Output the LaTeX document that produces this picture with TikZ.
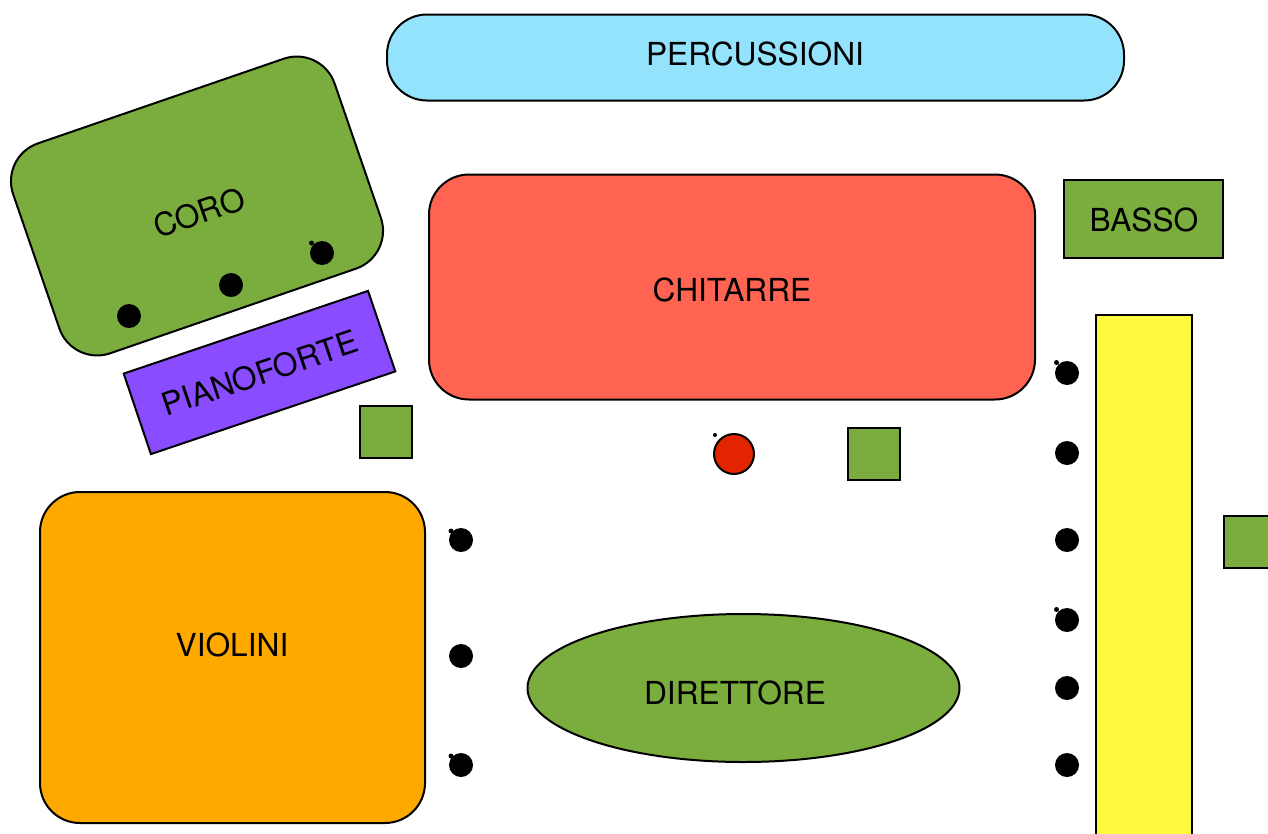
\documentclass[tikz,border=0pt]{standalone}
\usepackage{fontspec}
\setmainfont{TeX Gyre Heros}
\usetikzlibrary{shapes.geometric}
\definecolor{perc}{HTML}{93E3FD}
\definecolor{chit}{HTML}{FF6452}
\definecolor{grn}{HTML}{7AAD3D}
\definecolor{viol}{HTML}{FEA900}
\definecolor{yel}{HTML}{FFFA3D}
\definecolor{purp}{HTML}{8A4CFF}
\definecolor{redc}{HTML}{E22400}
\begin{document}
\begin{tikzpicture}[x=1pt,y=-1pt,
  area/.style={draw=black, line width=2pt, inner sep=0pt},
  lbl/.style={inner sep=0pt, font=\fontsize{31.7}{38}\selectfont},
  gbox/.style={draw=black, fill=grn, line width=2pt, minimum size=52pt, inner sep=0pt},
  seat/.style={circle, fill=black, minimum size=24pt, inner sep=0pt},
  nub/.style={circle, fill=black, minimum size=5pt, inner sep=0pt}]
\useasboundingbox (0,0) rectangle (1268,833);
\clip (0,0) rectangle (1268,833);
\node[area, fill=perc, rounded corners=40pt, minimum width=737pt, minimum height=86pt] (perc) at (755.5,57.5) {};
\node[lbl] (percT) at (755,54.3) {PERCUSSIONI};
\node[area, fill=chit, rounded corners=40pt, minimum width=606pt, minimum height=225pt] (chit) at (732,287) {};
\node[lbl] (chitT) at (732,289.7) {CHITARRE};
\node[area, fill=grn, minimum width=159pt, minimum height=78pt] (basso) at (1143.5,219) {};
\node[lbl] (bassoT) at (1144,219.7) {BASSO};
\node[area, fill=yel, minimum width=96pt, minimum height=585pt] (yel) at (1144,607.5) {};
\node[gbox] (sq1) at (1250,541.5) {};
\node[gbox] (sq2) at (874,453.5) {};
\node[gbox] (sq3) at (386,432) {};
\node[circle, draw=black, fill=redc, line width=2pt, minimum size=40pt, inner sep=0pt] (rc) at (734,454) {};
\node[nub, minimum size=4pt] (rcn) at (715,435) {};
\node[area, fill=viol, rounded corners=40pt, minimum width=385pt, minimum height=331pt] (viol) at (232.5,657.5) {};
\node[lbl] (violT) at (232,644.7) {VIOLINI};
\node[area, ellipse, fill=grn, minimum width=432pt, minimum height=148pt] (dir) at (743.5,688) {};
\node[lbl] (dirT) at (735,693) {DIRETTORE};
\node[area, fill=grn, rounded corners=40pt, minimum width=340pt, minimum height=222pt, rotate=19] (coro) at (197,206) {};
\node[lbl, rotate=19] (coroT) at (199,212.5) {CORO};
\node[area, fill=purp, minimum width=258pt, minimum height=85pt, rotate=18.7] (piano) at (259.5,372.5) {};
\node[lbl, rotate=18.7] (pianoT) at (260,373) {PIANOFORTE};
% seats in the choir
\node[seat] (c1) at (129,316) {};
\node[seat] (c2) at (231,285) {};
\node[seat] (c3) at (322,253) {};
\node[nub] (c3n) at ([shift={(-10.5,-10)}]c3) {};
% left seats
\node[seat] (l1) at (461,540) {};
\node[seat] (l2) at (461,656) {};
\node[seat] (l3) at (461,765) {};
\node[nub] (l1n) at ([shift={(-10,-9)}]l1) {};
\node[nub] (l3n) at ([shift={(-10,-9)}]l3) {};
% right seats
\node[seat] (r1) at (1067,373) {};
\node[seat] (r2) at (1067,453) {};
\node[seat] (r3) at (1067,540) {};
\node[seat] (r4) at (1067,620) {};
\node[seat] (r5) at (1067,688) {};
\node[seat] (r6) at (1067,765) {};
\node[nub] (r1n) at ([shift={(-10.5,-10.5)}]r1) {};
\node[nub] (r4n) at ([shift={(-10.5,-10.5)}]r4) {};
\end{tikzpicture}
\end{document}
